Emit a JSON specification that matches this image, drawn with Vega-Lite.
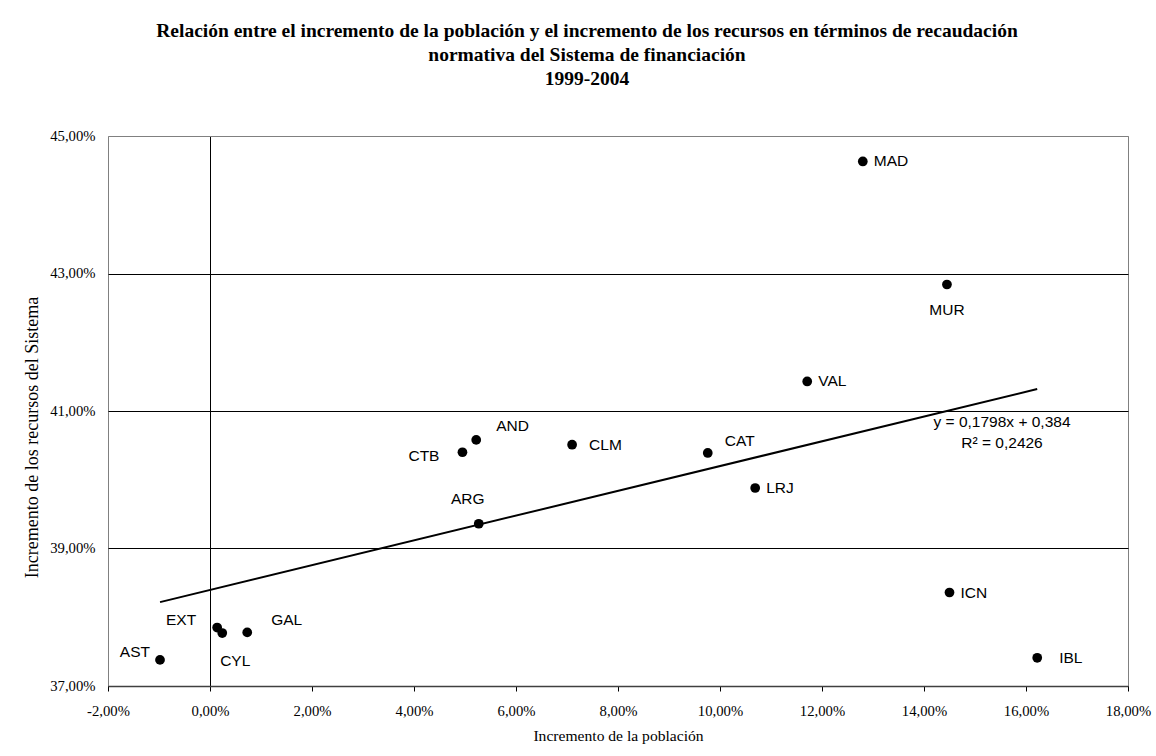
{
  "$schema": "https://vega.github.io/schema/vega-lite/v6.json",
  "width": 1020,
  "height": 550,
  "autosize": {"type": "none"},
  "padding": {"left": 108, "top": 136, "right": 28, "bottom": 70},
  "background": "white",
  "config": {
    "locale": {"number": {"decimal": ",", "thousands": ".", "grouping": [3], "currency": ["", " €"], "minus": "-", "percent": "%"}},
    "view": {"stroke": "#808080", "strokeWidth": 1},
    "font": "Liberation Serif",
    "text": {"font": "Liberation Sans", "fontSize": 15.5, "color": "#000", "baseline": "middle"}
  },
  "title": {
    "text": ["Relación entre el incremento de la población y el incremento de los recursos en términos de recaudación", "normativa del Sistema de financiación", "1999-2004"],
    "font": "Liberation Serif",
    "fontSize": 19.5,
    "fontWeight": "bold",
    "color": "#000",
    "anchor": "middle",
    "dx": -31,
    "offset": 39,
    "lineHeight": 24
  },
  "datasets": {
    "regions": [
      {"region": "MAD", "x": 0.1280, "y": 0.4463},
      {"region": "MUR", "x": 0.1445, "y": 0.4284},
      {"region": "VAL", "x": 0.1171, "y": 0.4143},
      {"region": "CAT", "x": 0.0976, "y": 0.4039},
      {"region": "LRJ", "x": 0.1069, "y": 0.3988},
      {"region": "ICN", "x": 0.1450, "y": 0.3836},
      {"region": "IBL", "x": 0.1622, "y": 0.3741},
      {"region": "CLM", "x": 0.0710, "y": 0.4051},
      {"region": "AND", "x": 0.0522, "y": 0.4058},
      {"region": "CTB", "x": 0.0495, "y": 0.4040},
      {"region": "ARG", "x": 0.0527, "y": 0.3936},
      {"region": "EXT", "x": 0.0014, "y": 0.3785},
      {"region": "CYL", "x": 0.0024, "y": 0.3777},
      {"region": "GAL", "x": 0.0073, "y": 0.3778},
      {"region": "AST", "x": -0.0098, "y": 0.3738}
    ],
    "trend": [
      {"x": -0.0098, "y": 0.3822},
      {"x": 0.1622, "y": 0.4132}
    ],
    "equation": [
      {"x": 0.1553, "y": 0.4084, "label": "y = 0,1798x + 0,384"},
      {"x": 0.1553, "y": 0.4053, "label": "R² = 0,2426"}
    ]
  },
  "layer": [
    {
      "data": {"name": "trend"},
      "mark": {"type": "line", "color": "#000", "strokeWidth": 2},
      "encoding": {
        "x": {
          "field": "x", "type": "quantitative",
          "scale": {"domain": [-0.02, 0.18], "nice": false, "zero": false},
          "axis": {
            "values": [-0.02, 0, 0.02, 0.04, 0.06, 0.08, 0.1, 0.12, 0.14, 0.16, 0.18],
            "format": ".2%",
            "title": "Incremento de la población",
            "titleFont": "Liberation Serif", "titleFontSize": 15.6, "titleFontWeight": "normal", "titleColor": "#000", "titlePadding": 11,
            "labelFont": "Liberation Serif", "labelFontSize": 14.7, "labelColor": "#000", "labelPadding": 12,
            "labelFlush": false, "labelOverlap": false,
            "tickSize": 5, "tickColor": "#000",
            "domainColor": "#404040", "domainWidth": 1.5,
            "grid": true, "gridColor": "#000",
            "gridOpacity": {"condition": {"test": "datum.value === 0", "value": 1}, "value": 0}
          }
        },
        "y": {
          "field": "y", "type": "quantitative",
          "scale": {"domain": [0.37, 0.45], "nice": false, "zero": false},
          "axis": {
            "values": [0.37, 0.39, 0.41, 0.43, 0.45],
            "format": ".2%",
            "title": "Incremento de los recursos del Sistema",
            "titleFont": "Liberation Serif", "titleFontSize": 18, "titleFontWeight": "normal", "titleColor": "#000",
            "titleX": -67, "titleY": 301,
            "labelFont": "Liberation Serif", "labelFontSize": 14.7, "labelColor": "#000", "labelPadding": 13,
            "ticks": false, "domain": false,
            "grid": true,
            "gridColor": {"condition": {"test": "datum.value === 0.45", "value": "#808080"}, "value": "#000"}
          }
        }
      }
    },
    {
      "data": {"name": "regions"},
      "mark": {"type": "circle", "color": "#000", "opacity": 1, "size": 95},
      "encoding": {"x": {"field": "x", "type": "quantitative"}, "y": {"field": "y", "type": "quantitative"}}
    },
    {
      "data": {"name": "regions"},
      "transform": [{"filter": {"field": "region", "oneOf": ["MAD", "VAL", "ICN", "LRJ"]}}],
      "mark": {"type": "text", "align": "left", "dx": 11, "dy": 0},
      "encoding": {"x": {"field": "x", "type": "quantitative"}, "y": {"field": "y", "type": "quantitative"}, "text": {"field": "region"}}
    },
    {
      "data": {"name": "regions"},
      "transform": [{"filter": {"field": "region", "equal": "CLM"}}],
      "mark": {"type": "text", "align": "left", "dx": 17, "dy": 0},
      "encoding": {"x": {"field": "x", "type": "quantitative"}, "y": {"field": "y", "type": "quantitative"}, "text": {"field": "region"}}
    },
    {
      "data": {"name": "regions"},
      "transform": [{"filter": {"field": "region", "equal": "IBL"}}],
      "mark": {"type": "text", "align": "left", "dx": 22, "dy": 0},
      "encoding": {"x": {"field": "x", "type": "quantitative"}, "y": {"field": "y", "type": "quantitative"}, "text": {"field": "region"}}
    },
    {
      "data": {"name": "regions"},
      "transform": [{"filter": {"field": "region", "equal": "MUR"}}],
      "mark": {"type": "text", "align": "center", "dx": 0, "dy": 25},
      "encoding": {"x": {"field": "x", "type": "quantitative"}, "y": {"field": "y", "type": "quantitative"}, "text": {"field": "region"}}
    },
    {
      "data": {"name": "regions"},
      "transform": [{"filter": {"field": "region", "equal": "CAT"}}],
      "mark": {"type": "text", "align": "left", "dx": 17, "dy": -12},
      "encoding": {"x": {"field": "x", "type": "quantitative"}, "y": {"field": "y", "type": "quantitative"}, "text": {"field": "region"}}
    },
    {
      "data": {"name": "regions"},
      "transform": [{"filter": {"field": "region", "equal": "AND"}}],
      "mark": {"type": "text", "align": "left", "dx": 20, "dy": -14},
      "encoding": {"x": {"field": "x", "type": "quantitative"}, "y": {"field": "y", "type": "quantitative"}, "text": {"field": "region"}}
    },
    {
      "data": {"name": "regions"},
      "transform": [{"filter": {"field": "region", "equal": "GAL"}}],
      "mark": {"type": "text", "align": "left", "dx": 24, "dy": -12},
      "encoding": {"x": {"field": "x", "type": "quantitative"}, "y": {"field": "y", "type": "quantitative"}, "text": {"field": "region"}}
    },
    {
      "data": {"name": "regions"},
      "transform": [{"filter": {"field": "region", "equal": "CTB"}}],
      "mark": {"type": "text", "align": "right", "dx": -23, "dy": 4},
      "encoding": {"x": {"field": "x", "type": "quantitative"}, "y": {"field": "y", "type": "quantitative"}, "text": {"field": "region"}}
    },
    {
      "data": {"name": "regions"},
      "transform": [{"filter": {"field": "region", "equal": "ARG"}}],
      "mark": {"type": "text", "align": "center", "dx": -11, "dy": -25},
      "encoding": {"x": {"field": "x", "type": "quantitative"}, "y": {"field": "y", "type": "quantitative"}, "text": {"field": "region"}}
    },
    {
      "data": {"name": "regions"},
      "transform": [{"filter": {"field": "region", "equal": "EXT"}}],
      "mark": {"type": "text", "align": "right", "dx": -21, "dy": -8},
      "encoding": {"x": {"field": "x", "type": "quantitative"}, "y": {"field": "y", "type": "quantitative"}, "text": {"field": "region"}}
    },
    {
      "data": {"name": "regions"},
      "transform": [{"filter": {"field": "region", "equal": "CYL"}}],
      "mark": {"type": "text", "align": "center", "dx": 13, "dy": 28},
      "encoding": {"x": {"field": "x", "type": "quantitative"}, "y": {"field": "y", "type": "quantitative"}, "text": {"field": "region"}}
    },
    {
      "data": {"name": "regions"},
      "transform": [{"filter": {"field": "region", "equal": "AST"}}],
      "mark": {"type": "text", "align": "right", "dx": -10, "dy": -8},
      "encoding": {"x": {"field": "x", "type": "quantitative"}, "y": {"field": "y", "type": "quantitative"}, "text": {"field": "region"}}
    },
    {
      "data": {"name": "equation"},
      "mark": {"type": "text", "align": "center"},
      "encoding": {"x": {"field": "x", "type": "quantitative"}, "y": {"field": "y", "type": "quantitative"}, "text": {"field": "label"}}
    }
  ]
}
